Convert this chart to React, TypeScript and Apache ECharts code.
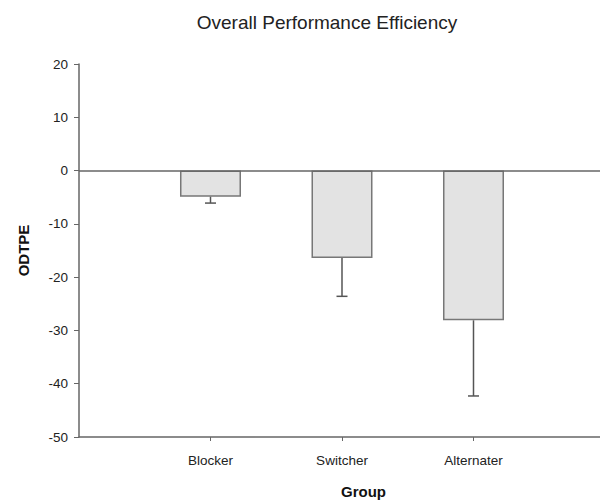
import React, { useEffect, useRef } from "react";
import * as echarts from "echarts";

const categories = ["Blocker", "Switcher", "Alternater"];
const means = [-4.9, -16.4, -28.1];
const errorLows = [-6.1, -23.6, -42.3];
const yTicks = [-50, -40, -30, -20, -10, 0, 10, 20];

export default function App() {
  const ref = useRef<HTMLDivElement>(null);
  useEffect(() => {
    if (!ref.current) return;
    const chart = echarts.init(ref.current, null, { renderer: "svg" });
    const font = "'Liberation Sans', Arial, sans-serif";
    const positions = categories.map((_, i) => i + 1);
    chart.setOption({
      animation: false,
      backgroundColor: "#ffffff",
      textStyle: { fontFamily: font },
      title: {
        text: "Overall Performance Efficiency",
        left: 322,
        textAlign: "center",
        top: 8,
        textStyle: { fontFamily: font, fontSize: 19, fontWeight: "normal", color: "#222" },
      },
      grid: { left: 79, top: 64, right: 0, height: 378, containLabel: false },
      xAxis: {
        type: "value",
        min: 0,
        max: 3.962,
        interval: 1,
        name: "Group",
        nameLocation: "middle",
        nameGap: 47,
        nameTextStyle: { fontFamily: font, fontSize: 15, fontWeight: "bold", color: "#111", padding: [0, 0, 0, 48] },
        axisLine: { show: true, onZero: false, lineStyle: { color: "#666", width: 1.5 } },
        axisTick: { show: true, length: 4, customValues: positions, lineStyle: { color: "#666" } },
        axisLabel: {
          customValues: positions,
          margin: 16,
          fontSize: 13.5,
          color: "#222",
          fontFamily: font,
          formatter: (v: number) => categories[Math.round(v) - 1] ?? "",
        },
        splitLine: { show: false },
      },
      yAxis: {
        type: "value",
        min: yTicks[0],
        max: yTicks[yTicks.length - 1],
        interval: 10,
        name: "ODTPE",
        nameLocation: "middle",
        nameGap: 48,
        nameRotate: 90,
        nameTextStyle: { fontFamily: font, fontSize: 15, fontWeight: "bold", color: "#111" },
        axisLine: { show: true, lineStyle: { color: "#666", width: 1.5 } },
        axisTick: { show: true, length: 5, lineStyle: { color: "#666" } },
        axisLabel: { margin: 11, fontSize: 13.5, color: "#222", fontFamily: font },
        splitLine: { show: false },
      },
      series: [
        {
          type: "bar",
          barWidth: 61,
          data: positions.map((p, i) => [p, means[i]]),
          itemStyle: { color: "#e3e3e3", borderColor: "#777", borderWidth: 1.5 },
          markLine: {
            silent: true,
            symbol: "none",
            label: { show: false },
            lineStyle: { color: "#666", width: 1.5, type: "solid" },
            data: [{ yAxis: 0 }],
          },
          z: 2,
        },
        {
          type: "custom",
          data: positions.map((p, i) => [p, means[i], errorLows[i]]),
          renderItem: (params: any, api: any) => {
            const x = api.value(0);
            const top = api.coord([x, api.value(1)]);
            const bot = api.coord([x, api.value(2)]);
            const cap = 5.5;
            return {
              type: "group",
              children: [
                {
                  type: "line",
                  shape: { x1: top[0], y1: top[1], x2: bot[0], y2: bot[1] },
                  style: { stroke: "#555", lineWidth: 1.5 },
                },
                {
                  type: "line",
                  shape: { x1: bot[0] - cap, y1: bot[1], x2: bot[0] + cap, y2: bot[1] },
                  style: { stroke: "#555", lineWidth: 1.5 },
                },
              ],
            };
          },
          z: 3,
        },
      ],
    });
    return () => chart.dispose();
  }, []);
  return <div ref={ref} style={{ width: 600, height: 504, position: "absolute", left: 0, top: 0 }} />;
}
